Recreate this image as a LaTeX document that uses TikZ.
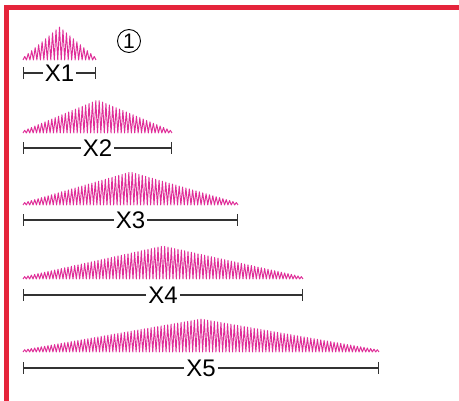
\documentclass[tikz,border=0pt]{standalone}
\usepackage{fontspec}
\setmainfont{Liberation Sans}
\usepackage{xcolor}
\definecolor{FrameRed}{HTML}{E5243B}
\definecolor{WaveMagenta}{HTML}{DF2E98}
\definecolor{DimGrey}{HTML}{333333}
\usepackage{tikz}
\usetikzlibrary{arrows.meta, positioning, calc}
\tikzstyle{frame} = [color=FrameRed, line width=5pt]
\tikzstyle{wave} = [color=WaveMagenta, line width=0.95pt, line join=round]
\tikzstyle{dim} = [color=DimGrey, line width=1.2pt, -{Bar[width=12pt, line width=1.2pt]}]
\tikzstyle{dimlabel} = [fill=white, text=black, inner xsep=2pt, inner ysep=0pt, text height=16.5pt, text depth=0pt, anchor=center, font=\fontsize{24}{24}\selectfont]

\begin{document}
\begin{tikzpicture}[x=1pt, y=-1pt,
    declare function={env(\t,\w)=2+31*(1-abs(2*\t/\w-1)); zig(\t,\n,\w)=(1-cos(mod(\t/\w*\n,2)*180))/2;}]
        \useasboundingbox (0,0) rectangle (459,401);

        % red frame
        \draw [frame] (4,7.5) -- (459,7.5);
        \draw [frame] (6.7,5) -- (6.7,401);

        \node [circle, draw, line width=0.9pt, minimum size=23pt, inner sep=0pt, font=\fontsize{21}{21}\selectfont] (num) at (129,41) {1};

        % waves
        \draw [wave] plot[domain=0:73, samples=43] ({23+\x}, {60-env(\x,73)*zig(\x,42,73)});
        \draw [wave] plot[domain=0:149, samples=89] ({23+\x}, {133-env(\x,149)*zig(\x,88,149)});
        \draw [wave] plot[domain=0:215, samples=129] ({23+\x}, {205-env(\x,215)*zig(\x,128,215)});
        \draw [wave] plot[domain=0:280, samples=169] ({23+\x}, {279-env(\x,280)*zig(\x,168,280)});
        \draw [wave] plot[domain=0:356, samples=215] ({23+\x}, {352-env(\x,356)*zig(\x,214,356)});

        % dimension bars
        \coordinate (s1) at (23,73);  \coordinate (e1) at (96,73);
        \coordinate (s2) at (23,148); \coordinate (e2) at (172,148);
        \coordinate (s3) at (23,220); \coordinate (e3) at (238,220);
        \coordinate (s4) at (23,295); \coordinate (e4) at (303,295);
        \coordinate (s5) at (23,368); \coordinate (e5) at (379,368);

        \node [dimlabel] (x1) at ($(s1)!0.5!(e1)$) {X1};
        \node [dimlabel] (x2) at ($(s2)!0.5!(e2)$) {X2};
        \node [dimlabel] (x3) at ($(s3)!0.5!(e3)$) {X3};
        \node [dimlabel] (x4) at ($(s4)!0.5!(e4)$) {X4};
        \node [dimlabel] (x5) at ($(s5)!0.5!(e5)$) {X5};

        \draw [dim] (x1) -- (s1); \draw [dim] (x1) -- (e1);
        \draw [dim] (x2) -- (s2); \draw [dim] (x2) -- (e2);
        \draw [dim] (x3) -- (s3); \draw [dim] (x3) -- (e3);
        \draw [dim] (x4) -- (s4); \draw [dim] (x4) -- (e4);
        \draw [dim] (x5) -- (s5); \draw [dim] (x5) -- (e5);
    \end{tikzpicture}
\end{document}
